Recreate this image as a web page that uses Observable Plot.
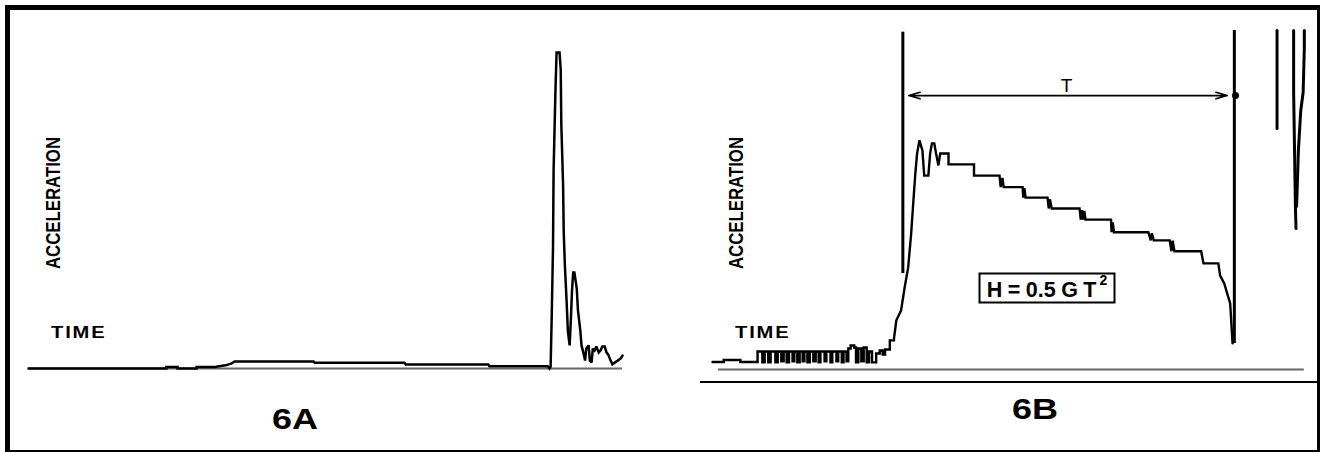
<!DOCTYPE html>
<html>
<head>
<meta charset="utf-8">
<script src="https://cdn.jsdelivr.net/npm/d3@7"></script>
<script src="https://cdn.jsdelivr.net/npm/@observablehq/plot@0.6"></script>
<style>
  html, body { margin: 0; padding: 0; background: #fff; }
  body { position: relative; width: 1320px; height: 452px; overflow: hidden;
         font-family: "Liberation Sans", Arial, Helvetica, sans-serif; color: #000; }
  .abs { position: absolute; }
  #frame { left: 5px; top: 5px; width: 1315px; height: 447px; box-sizing: border-box;
           border-top: 5px solid #000; border-left: 5px solid #000;
           border-right: 3px solid #000; border-bottom: 2px solid #000; }
  #sep { left: 700px; top: 381px; width: 617px; height: 0; border-top: 2px solid #000; }
  .acc { width: 0; height: 0; }
  .acc span { position: absolute; white-space: nowrap; font-weight: bold; font-size: 16.8px;
              line-height: 16.8px; transform: translate(-50%, -50%) scale(1.22, 1) rotate(-90deg); }
  .time { font-weight: bold; font-size: 16.5px; line-height: 16.5px; letter-spacing: 1.5px;
          transform: scale(1.22, 1); transform-origin: 0 0; white-space: nowrap; }
  .cap { font-weight: bold; font-size: 30px; line-height: 30px; transform: scale(1.2, 1);
         transform-origin: 0 0; white-space: nowrap; }
  #box { border: 2px solid #000; width: 133px; height: 27px; background: #fff;
         transform: translate(-50%, -50%); display: flex; align-items: center; justify-content: center;
         font-weight: bold; font-size: 21.5px; white-space: nowrap; word-spacing: -0.5px; }
  #box .inner { display: inline-block; line-height: 27px; padding-top: 4px; }
  #box sup { font-size: 14px; line-height: 0; position: relative; top: -3px; margin-left: 3px; }
</style>
</head>
<body>
<div id="frame" class="abs"></div>
<div id="sep" class="abs"></div>
<div id="plotA" class="abs" style="left:10px; top:10px;"></div>
<div id="plotB" class="abs" style="left:690px; top:10px;"></div>

<div class="abs acc" style="left:54px; top:203px;"><span>ACCELERATION</span></div>
<div class="abs acc" style="left:737px; top:203px;"><span>ACCELERATION</span></div>
<div class="abs time" style="left:51px; top:324px;">TIME</div>
<div class="abs time" style="left:735px; top:324px;">TIME</div>
<div class="abs cap" style="left:272px; top:404px;">6A</div>
<div class="abs cap" style="left:1012px; top:394px;">6B</div>
<div id="box" class="abs"><span class="inner">H = 0.5 G T<sup>2</sup></span></div>

<script>
// ---------- Panel 6A: acceleration trace vs time (arbitrary units) ----------
const aTime = [0,23.2,23.2,25.1,25.1,28.3,28.3,31.5,31.8,33.2,34.2,34.7,48.0,48.2,63.3,63.5,77.4,77.6,87.4,87.7,
  87.9,88.1,88.3,88.4,88.7,88.9,89.4,89.6,89.7,90.0,90.1,90.3,90.6,90.8,91.1,91.3,91.5,91.7,91.9,92.3,
  92.5,92.9,93.1,93.4,93.7,93.9,94.3,94.5,94.8,95.0,95.3,95.6,96.0,96.3,96.6,97.0,97.3,97.6,98.0,98.3,
  98.7,99.2,99.7,100];
const aAccel = [0,0,0.5,0.5,0,0,0.5,0.5,0.6,1.0,1.6,2.2,2.2,1.8,1.8,1.3,1.3,0.7,0.7,0,
  0.6,18.0,38.3,62.7,87.0,100,100,94.6,77.2,57.9,43.4,32.6,20.9,12.0,7.3,15.2,24.7,30.4,30.4,25.3,
  18.4,12.0,7.3,5.1,2.5,6.3,7.3,2.5,1.9,6.3,5.7,7.0,5.1,5.7,7.0,7.0,5.1,4.4,2.5,1.3,
  1.9,2.5,3.2,4.1];

// ---------- Panel 6B: main trace (level before the drop, then square-wave noise) ----------
const bLeadTime = [0,1.9,1.9,4.7,4.7];
const bLeadAccel = [2.2,2.2,2.8,2.8,2.2];
// noise band: each entry is a vertical switch at that time to the given level
const bNoiseTime = [7.6,8.4,8.8,9.4,9.8,10.6,11.0,11.6,12.0,12.5,12.9,13.5,13.8,14.3,14.7,15.2,15.5,16.0,16.4,17.0,
  17.4,17.9,18.2,18.9,19.2,19.9,20.2,20.9,21.2,21.8,22.1,22.6,22.9,23.3,23.9,24.2,24.6,25.1,25.5,26.0,
  26.4,26.9,27.6,28.2,28.7,29.1,29.9,30.6];
const bNoiseLevel = [5.3,2.1,5.3,2.1,5.3,2.1,5.3,2.4,5.3,2.1,5.3,2.4,5.3,2.1,5.3,2.4,5.3,2.1,5.3,2.4,
  5.3,2.1,5.3,2.4,5.3,2.1,5.3,2.4,5.3,2.1,5.3,2.4,6.2,7.1,6.5,2.1,6.2,2.4,6.5,2.1,
  5.3,2.1,4.7,5.6,4.4,5.9,8.6,9.1];
// free-fall plateau and impact
const bTime = [31.0,31.8,32.4,33.0,33.5,33.8,34.2,34.5,34.9,35.4,35.7,36.4,36.7,37.0,37.4,37.7,38.1,38.4,39.8,39.8,
  44.1,44.1,48.4,48.6,48.9,49.1,52.3,52.4,52.6,52.8,56.5,56.7,56.9,57.2,61.9,62.1,62.3,62.5,62.7,62.9,
  67.2,67.3,67.5,67.7,73.5,73.9,74.1,74.4,77.1,77.4,77.6,77.9,82.4,82.8,85.3,85.6,86.3,86.8,87.3,87.7];
const bAccel = [14.5,17.4,24.2,30.1,40.1,47.8,57.8,63.7,67.6,64.6,57.2,57.2,63.7,66.7,66.7,63.7,60.2,63.7,63.7,60.5,
  60.5,57.2,57.2,53.8,56.5,53.8,53.8,50.7,53.5,50.7,50.7,47.5,50.2,47.5,47.5,44.2,47.0,44.2,46.8,44.2,
  44.2,40.5,43.4,40.5,40.5,38.1,40.2,38.1,38.1,34.9,38.0,34.9,34.9,31.3,31.3,27.7,25.4,22.4,19.5,7.7];

// vertical timing marks (start / end of drop)
const markTime = [32.1, 88.0];
const markTop = [99.5, 100];
const markBottom = [28.3, 7.7];

// traces at the far right
const rightId = [1,1,2,2,2,2,3,3,3,3,3,3];
const rightTime = [95.2,95.2,98.0,98.0,98.3,98.4,99.8,99.8,99.6,99.2,98.8,98.5];
const rightAccel = [100,71.1,100,81.7,47.9,41.6,100,94.7,81.7,76.4,64.6,48.1];

// annotations (data units)
const spanT = [33.1, 86.8];
const spanLevel = 80.8;
const endDot = [88.2, 80.8];
const tLabel = [59.7, 83.8, "T"];
const boxCenter = [56.5, 24.0];
const baseB = [1.0, 99.8];

const rowsA = aTime.map((t, i) => ({t, a: aAccel[i]}));
const rowsB = [];
bLeadTime.forEach((t, i) => rowsB.push({t, a: bLeadAccel[i]}));
let level = bLeadAccel[bLeadAccel.length - 1];
bNoiseTime.forEach((t, i) => { rowsB.push({t, a: level}); level = bNoiseLevel[i]; rowsB.push({t, a: level}); });
bTime.forEach((t, i) => rowsB.push({t, a: bAccel[i]}));

const marks = markTime.map((t, i) => ({t, top: markTop[i], bottom: markBottom[i]}));
const rightRows = rightTime.map((t, i) => ({t, a: rightAccel[i], id: rightId[i]}));
const mid = (spanT[0] + spanT[1]) / 2;
const arrows = [{from: mid, to: spanT[0], y: spanLevel}, {from: mid, to: spanT[1], y: spanLevel}];

const common = {
  x: {domain: [0, 100], axis: null},
  y: {domain: [0, 100], axis: null},
  style: {background: "transparent", overflow: "visible"}
};

const plotA = Plot.plot({
  ...common,
  width: 680, height: 372, marginLeft: 18, marginRight: 68, marginTop: 42, marginBottom: 14,
  marks: [
    Plot.ruleY([0], {stroke: "#666", strokeWidth: 2}),
    Plot.line(rowsA, {x: "t", y: "a", stroke: "#000", strokeWidth: 2.5, strokeLinejoin: "miter", strokeMiterlimit: 2})
  ]
});
document.getElementById("plotA").append(plotA);

const plotB = Plot.plot({
  ...common,
  width: 627, height: 372, marginLeft: 22, marginRight: 12, marginTop: 20, marginBottom: 13,
  marks: [
    Plot.ruleY([{y: 0, x1: baseB[0], x2: baseB[1]}], {y: "y", x1: "x1", x2: "x2", stroke: "#666", strokeWidth: 2}),
    Plot.line(rowsB, {x: "t", y: "a", stroke: "#000", strokeWidth: 2.4, strokeLinejoin: "miter", strokeMiterlimit: 2}),
    Plot.ruleX(marks, {x: "t", y1: "bottom", y2: "top", stroke: "#000", strokeWidth: 3}),
    Plot.line(rightRows, {x: "t", y: "a", z: "id", stroke: "#000", strokeWidth: 3}),
    Plot.arrow(arrows, {x1: "from", x2: "to", y1: "y", y2: "y", stroke: "#000", strokeWidth: 1.6, headAngle: 32, headLength: 11}),
    Plot.dot([{t: endDot[0], a: endDot[1]}], {x: "t", y: "a", r: 3.5, fill: "#000", stroke: null}),
    Plot.text([{t: tLabel[0], a: tLabel[1], s: tLabel[2]}], {x: "t", y: "a", text: "s", fontSize: 19,
      fontFamily: "Liberation Sans, Arial, sans-serif", lineAnchor: "middle", textAnchor: "middle", fill: "#000"})
  ]
});
document.getElementById("plotB").append(plotB);

// place the formula box through plot B's scales
const bx = plotB.scale("x"), by = plotB.scale("y");
const box = document.getElementById("box");
box.style.left = (690 + bx.apply(boxCenter[0])) + "px";
box.style.top = (10 + by.apply(boxCenter[1])) + "px";
</script>
</body>
</html>
